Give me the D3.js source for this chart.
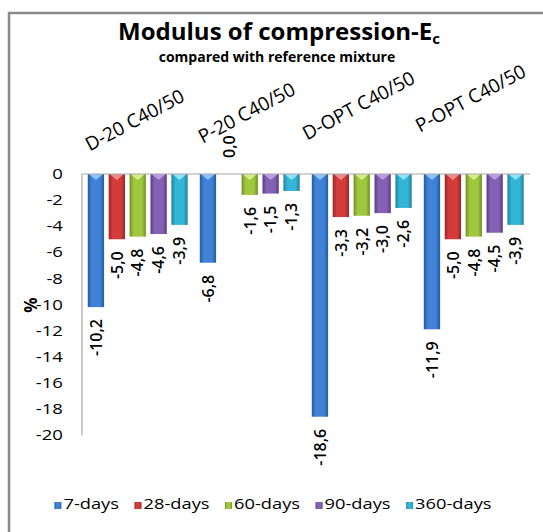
<!DOCTYPE html>
<html>
<head>
<meta charset="utf-8">
<script src="https://cdn.jsdelivr.net/npm/d3@7"></script>
<style>
  body { margin: 0; background: #fff; overflow: hidden; }
  svg { display: block; }
  text { font-family: "Open Sans", sans-serif; fill: #000; }
</style>
</head>
<body>
<script>
// values (% change vs reference mixture)
const mixtures = ["D-20 C40/50", "P-20 C40/50", "D-OPT C40/50", "P-OPT C40/50"];
const ages = ["7-days", "28-days", "60-days", "90-days", "360-days"];
const days7 = [-10.2, -6.8, -18.6, -11.9];
const days28 = [-5.0, 0.0, -3.3, -5.0];
const days60 = [-4.8, -1.6, -3.2, -4.8];
const days90 = [-4.6, -1.5, -3.0, -4.5];
const days360 = [-3.9, -1.3, -2.6, -3.9];
const yTicks = [0, -2, -4, -6, -8, -10, -12, -14, -16, -18, -20];

const series = [days7, days28, days60, days90, days360];

let width = 543;
let height = 532;

// base / dark edge / light bevel
let colors = [
    {base: "#3f82d6", dark: "#245a9f", light: "#8cc4f4"},
    {base: "#d43c3c", dark: "#9c2424", light: "#f08a8a"},
    {base: "#9fc83e", dark: "#6f9226", light: "#d6ee8e"},
    {base: "#8461b4", dark: "#583d86", light: "#bb9de2"},
    {base: "#34b5d6", dark: "#1f819f", light: "#90e2f4"}
];

let svg = d3.select("body").append("svg")
    .attr("width", width)
    .attr("height", height);

let defs = svg.append("defs");
colors.forEach((c, i) => {
    let g = defs.append("linearGradient")
        .attr("id", "grad" + i)
        .attr("x1", "0%").attr("x2", "100%")
        .attr("y1", "0%").attr("y2", "0%");
    g.append("stop").attr("offset", "0%").attr("stop-color", c.dark);
    g.append("stop").attr("offset", "25%").attr("stop-color", c.base);
    g.append("stop").attr("offset", "75%").attr("stop-color", c.base);
    g.append("stop").attr("offset", "100%").attr("stop-color", c.dark);
});

// outer frame: only its left and top edges fall inside the picture
svg.append("line")
    .attr("x1", 9).attr("x2", 9)
    .attr("y1", 12).attr("y2", height)
    .attr("stroke", "#8a8a8a")
    .attr("stroke-width", 2.5);
svg.append("line")
    .attr("x1", 8).attr("x2", width)
    .attr("y1", 13).attr("y2", 13)
    .attr("stroke", "#8a8a8a")
    .attr("stroke-width", 2.5);

// title
let title = svg.append("text")
    .attr("x", 279).attr("y", 40)
    .attr("text-anchor", "middle")
    .style("font-size", "24px")
    .style("font-weight", "bold");
title.append("tspan").text("Modulus of compression-E");
title.append("tspan")
    .attr("dy", 4)
    .style("font-size", "15px")
    .text("c");

svg.append("text")
    .attr("x", 277).attr("y", 62)
    .attr("text-anchor", "middle")
    .style("font-size", "14px")
    .style("font-weight", "bold")
    .text("compared with reference mixture");

// scales
let plotLeft = 81.5, plotRight = 530;
let y = d3.scaleLinear().domain([0, -20]).range([174, 435]);

let x0 = d3.scaleBand()
    .domain(mixtures)
    .range([plotLeft, plotRight])
    .paddingInner(0.108)
    .paddingOuter(0.056);

let x1 = d3.scaleBand()
    .domain(ages)
    .range([0, x0.bandwidth()])
    .paddingInner(0.22);

// y axis
let yAxis = svg.append("g")
    .attr("transform", `translate(${plotLeft},0)`)
    .call(d3.axisLeft(y).tickValues(yTicks).tickSize(0).tickFormat(d => String(d)));
yAxis.select(".domain").attr("stroke", "#a6a6a6").attr("stroke-width", 1.2);
yAxis.selectAll("text")
    .attr("x", -14.5)
    .attr("transform", "scale(1.28,1)")
    .style("font-family", "\"Open Sans\", sans-serif")
    .style("font-size", "14.5px");

svg.append("text")
    .attr("transform", "translate(37,305) rotate(-90)")
    .attr("text-anchor", "middle")
    .style("font-size", "17px")
    .style("font-weight", "bold")
    .text("%");

// bars
let rows = [];
mixtures.forEach((m, mi) => {
    ages.forEach((a, ai) => {
        rows.push({mix: m, age: a, ai: ai, value: series[ai][mi]});
    });
});

let groups = svg.append("g");

groups.selectAll(".bar")
    .data(rows)
    .join("rect")
    .attr("class", "bar")
    .attr("x", d => x0(d.mix) + x1(d.age))
    .attr("y", y(0))
    .attr("width", x1.bandwidth())
    .attr("height", d => y(d.value) - y(0))
    .attr("fill", d => `url(#grad${d.ai})`);

// bevel triangles on top of each bar
groups.selectAll(".bevel")
    .data(rows.filter(d => d.value < 0))
    .join("path")
    .attr("class", "bevel")
    .attr("d", d => {
        let bx = x0(d.mix) + x1(d.age);
        let w = x1.bandwidth();
        let h = Math.min(6, y(d.value) - y(0));
        return `M${bx + 1},${y(0)} L${bx + w - 1},${y(0)} L${bx + w / 2},${y(0) + h} Z`;
    })
    .attr("fill", d => colors[d.ai].light);

// zero line
svg.append("line")
    .attr("x1", plotLeft).attr("x2", plotRight)
    .attr("y1", y(0)).attr("y2", y(0))
    .attr("stroke", "#a6a6a6")
    .attr("stroke-width", 1.2);

// data labels
svg.selectAll(".dlabel")
    .data(rows)
    .join("text")
    .attr("class", "dlabel")
    .attr("transform", d => {
        let cx = x0(d.mix) + x1(d.age) + x1.bandwidth() / 2;
        let ly = d.value < 0 ? y(d.value) + 12 : y(0) - 16;
        return `translate(${cx},${ly}) rotate(-90)`;
    })
    .attr("dy", "0.36em")
    .attr("text-anchor", d => d.value < 0 ? "end" : "start")
    .style("font-size", "16px")
    .style("font-weight", 600)
    .text(d => d.value.toFixed(1).replace(".", ","));

// category labels above the bars
svg.selectAll(".catlabel")
    .data(mixtures)
    .join("text")
    .attr("class", "catlabel")
    .attr("transform", (d, i) => `translate(${x0(d) + x0.bandwidth() / 2},${126 - 7.3 * i}) rotate(-28)`)
    .attr("text-anchor", "middle")
    .style("font-size", "19px")
    .text(d => d);

// legend
let legend = svg.append("g").attr("transform", "translate(0,509)");
let items = legend.selectAll(".legend-item")
    .data(ages)
    .join("g")
    .attr("class", "legend-item");

items.append("rect")
    .attr("x", 0).attr("y", -7)
    .attr("width", 7).attr("height", 7)
    .attr("fill", (d, i) => `url(#grad${i})`);

items.append("text")
    .attr("x", 0)
    .attr("transform", "translate(9,0) scale(1.22,1)")
    .style("font-size", "15px")
    .text(d => d);

let gap = 15.5;
let cursor = 0;
let offsets = [];
items.each(function() {
    let t = d3.select(this).select("text").node().getComputedTextLength() * 1.22;
    offsets.push(cursor);
    cursor += 9 + t + gap;
});
let total = cursor - gap;
let startX = 273 - total / 2;
items.attr("transform", (d, i) => `translate(${startX + offsets[i]},0)`);
</script>
</body>
</html>
